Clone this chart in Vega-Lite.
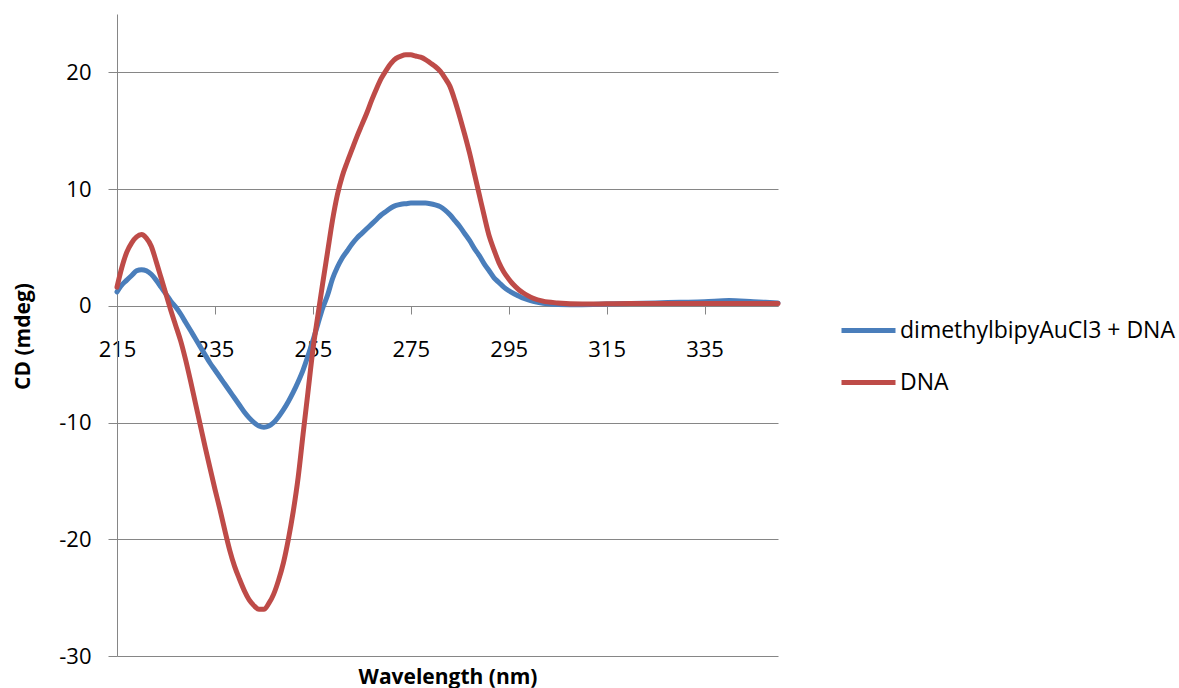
{
  "$schema": "https://vega.github.io/schema/vega-lite/v6.json",
  "autosize": {"type": "none"},
  "width": 661,
  "height": 642,
  "padding": {"left": 117, "top": 14, "right": 401, "bottom": 32},
  "background": "white",
  "config": {
    "view": {"stroke": null},
    "font": "Open Sans"
  },
  "data": {"values": [
    {"wl":215,"series":"dimethylbipyAuCl3 + DNA","cd":1.2},{"wl":216,"series":"dimethylbipyAuCl3 + DNA","cd":1.8},{"wl":217,"series":"dimethylbipyAuCl3 + DNA","cd":2.2},{"wl":218,"series":"dimethylbipyAuCl3 + DNA","cd":2.6},{"wl":219,"series":"dimethylbipyAuCl3 + DNA","cd":3.0},{"wl":220,"series":"dimethylbipyAuCl3 + DNA","cd":3.1},{"wl":221,"series":"dimethylbipyAuCl3 + DNA","cd":3.0},{"wl":222,"series":"dimethylbipyAuCl3 + DNA","cd":2.7},{"wl":223,"series":"dimethylbipyAuCl3 + DNA","cd":2.2},{"wl":224,"series":"dimethylbipyAuCl3 + DNA","cd":1.6},{"wl":225,"series":"dimethylbipyAuCl3 + DNA","cd":1.0},{"wl":226,"series":"dimethylbipyAuCl3 + DNA","cd":0.4},{"wl":227,"series":"dimethylbipyAuCl3 + DNA","cd":-0.1},{"wl":228,"series":"dimethylbipyAuCl3 + DNA","cd":-0.7},{"wl":229,"series":"dimethylbipyAuCl3 + DNA","cd":-1.4},{"wl":230,"series":"dimethylbipyAuCl3 + DNA","cd":-2.1},{"wl":231,"series":"dimethylbipyAuCl3 + DNA","cd":-2.8},{"wl":232,"series":"dimethylbipyAuCl3 + DNA","cd":-3.5},{"wl":233,"series":"dimethylbipyAuCl3 + DNA","cd":-4.2},{"wl":234,"series":"dimethylbipyAuCl3 + DNA","cd":-4.9},{"wl":235,"series":"dimethylbipyAuCl3 + DNA","cd":-5.5},{"wl":236,"series":"dimethylbipyAuCl3 + DNA","cd":-6.1},{"wl":237,"series":"dimethylbipyAuCl3 + DNA","cd":-6.7},{"wl":238,"series":"dimethylbipyAuCl3 + DNA","cd":-7.3},{"wl":239,"series":"dimethylbipyAuCl3 + DNA","cd":-7.9},{"wl":240,"series":"dimethylbipyAuCl3 + DNA","cd":-8.5},{"wl":241,"series":"dimethylbipyAuCl3 + DNA","cd":-9.1},{"wl":242,"series":"dimethylbipyAuCl3 + DNA","cd":-9.6},{"wl":243,"series":"dimethylbipyAuCl3 + DNA","cd":-10.0},{"wl":244,"series":"dimethylbipyAuCl3 + DNA","cd":-10.3},{"wl":245,"series":"dimethylbipyAuCl3 + DNA","cd":-10.4},{"wl":246,"series":"dimethylbipyAuCl3 + DNA","cd":-10.3},{"wl":247,"series":"dimethylbipyAuCl3 + DNA","cd":-10.0},{"wl":248,"series":"dimethylbipyAuCl3 + DNA","cd":-9.5},{"wl":249,"series":"dimethylbipyAuCl3 + DNA","cd":-8.9},{"wl":250,"series":"dimethylbipyAuCl3 + DNA","cd":-8.2},{"wl":251,"series":"dimethylbipyAuCl3 + DNA","cd":-7.4},{"wl":252,"series":"dimethylbipyAuCl3 + DNA","cd":-6.5},{"wl":253,"series":"dimethylbipyAuCl3 + DNA","cd":-5.5},{"wl":254,"series":"dimethylbipyAuCl3 + DNA","cd":-4.3},{"wl":255,"series":"dimethylbipyAuCl3 + DNA","cd":-3.0},{"wl":256,"series":"dimethylbipyAuCl3 + DNA","cd":-1.6},{"wl":257,"series":"dimethylbipyAuCl3 + DNA","cd":-0.2},{"wl":258,"series":"dimethylbipyAuCl3 + DNA","cd":0.9},{"wl":259,"series":"dimethylbipyAuCl3 + DNA","cd":2.3},{"wl":260,"series":"dimethylbipyAuCl3 + DNA","cd":3.3},{"wl":261,"series":"dimethylbipyAuCl3 + DNA","cd":4.1},{"wl":262,"series":"dimethylbipyAuCl3 + DNA","cd":4.7},{"wl":263,"series":"dimethylbipyAuCl3 + DNA","cd":5.3},{"wl":264,"series":"dimethylbipyAuCl3 + DNA","cd":5.8},{"wl":265,"series":"dimethylbipyAuCl3 + DNA","cd":6.2},{"wl":266,"series":"dimethylbipyAuCl3 + DNA","cd":6.6},{"wl":267,"series":"dimethylbipyAuCl3 + DNA","cd":7.0},{"wl":268,"series":"dimethylbipyAuCl3 + DNA","cd":7.4},{"wl":269,"series":"dimethylbipyAuCl3 + DNA","cd":7.8},{"wl":270,"series":"dimethylbipyAuCl3 + DNA","cd":8.1},{"wl":271,"series":"dimethylbipyAuCl3 + DNA","cd":8.4},{"wl":272,"series":"dimethylbipyAuCl3 + DNA","cd":8.6},{"wl":273,"series":"dimethylbipyAuCl3 + DNA","cd":8.7},{"wl":274,"series":"dimethylbipyAuCl3 + DNA","cd":8.75},{"wl":275,"series":"dimethylbipyAuCl3 + DNA","cd":8.8},{"wl":276,"series":"dimethylbipyAuCl3 + DNA","cd":8.8},{"wl":277,"series":"dimethylbipyAuCl3 + DNA","cd":8.8},{"wl":278,"series":"dimethylbipyAuCl3 + DNA","cd":8.8},{"wl":279,"series":"dimethylbipyAuCl3 + DNA","cd":8.75},{"wl":280,"series":"dimethylbipyAuCl3 + DNA","cd":8.65},{"wl":281,"series":"dimethylbipyAuCl3 + DNA","cd":8.5},{"wl":282,"series":"dimethylbipyAuCl3 + DNA","cd":8.2},{"wl":283,"series":"dimethylbipyAuCl3 + DNA","cd":7.8},{"wl":284,"series":"dimethylbipyAuCl3 + DNA","cd":7.3},{"wl":285,"series":"dimethylbipyAuCl3 + DNA","cd":6.8},{"wl":286,"series":"dimethylbipyAuCl3 + DNA","cd":6.2},{"wl":287,"series":"dimethylbipyAuCl3 + DNA","cd":5.6},{"wl":288,"series":"dimethylbipyAuCl3 + DNA","cd":4.9},{"wl":289,"series":"dimethylbipyAuCl3 + DNA","cd":4.3},{"wl":290,"series":"dimethylbipyAuCl3 + DNA","cd":3.6},{"wl":291,"series":"dimethylbipyAuCl3 + DNA","cd":3.0},{"wl":292,"series":"dimethylbipyAuCl3 + DNA","cd":2.4},{"wl":293,"series":"dimethylbipyAuCl3 + DNA","cd":2.0},{"wl":294,"series":"dimethylbipyAuCl3 + DNA","cd":1.6},{"wl":295,"series":"dimethylbipyAuCl3 + DNA","cd":1.3},{"wl":296,"series":"dimethylbipyAuCl3 + DNA","cd":1.05},{"wl":297,"series":"dimethylbipyAuCl3 + DNA","cd":0.85},{"wl":298,"series":"dimethylbipyAuCl3 + DNA","cd":0.65},{"wl":299,"series":"dimethylbipyAuCl3 + DNA","cd":0.5},{"wl":300,"series":"dimethylbipyAuCl3 + DNA","cd":0.38},{"wl":302,"series":"dimethylbipyAuCl3 + DNA","cd":0.22},{"wl":305,"series":"dimethylbipyAuCl3 + DNA","cd":0.12},{"wl":310,"series":"dimethylbipyAuCl3 + DNA","cd":0.1},{"wl":315,"series":"dimethylbipyAuCl3 + DNA","cd":0.15},{"wl":320,"series":"dimethylbipyAuCl3 + DNA","cd":0.2},{"wl":325,"series":"dimethylbipyAuCl3 + DNA","cd":0.25},{"wl":330,"series":"dimethylbipyAuCl3 + DNA","cd":0.3},{"wl":335,"series":"dimethylbipyAuCl3 + DNA","cd":0.35},{"wl":340,"series":"dimethylbipyAuCl3 + DNA","cd":0.45},{"wl":345,"series":"dimethylbipyAuCl3 + DNA","cd":0.35},{"wl":350,"series":"dimethylbipyAuCl3 + DNA","cd":0.25},
    {"wl":215,"series":"DNA","cd":1.6},{"wl":216,"series":"DNA","cd":3.3},{"wl":217,"series":"DNA","cd":4.6},{"wl":218,"series":"DNA","cd":5.4},{"wl":219,"series":"DNA","cd":5.9},{"wl":220,"series":"DNA","cd":6.1},{"wl":221,"series":"DNA","cd":5.8},{"wl":222,"series":"DNA","cd":5.1},{"wl":223,"series":"DNA","cd":3.8},{"wl":224,"series":"DNA","cd":2.4},{"wl":225,"series":"DNA","cd":1.0},{"wl":226,"series":"DNA","cd":-0.4},{"wl":227,"series":"DNA","cd":-1.7},{"wl":228,"series":"DNA","cd":-3.0},{"wl":229,"series":"DNA","cd":-4.6},{"wl":230,"series":"DNA","cd":-6.4},{"wl":231,"series":"DNA","cd":-8.3},{"wl":232,"series":"DNA","cd":-10.2},{"wl":233,"series":"DNA","cd":-12.1},{"wl":234,"series":"DNA","cd":-13.9},{"wl":235,"series":"DNA","cd":-15.7},{"wl":236,"series":"DNA","cd":-17.4},{"wl":237,"series":"DNA","cd":-19.2},{"wl":238,"series":"DNA","cd":-20.9},{"wl":239,"series":"DNA","cd":-22.3},{"wl":240,"series":"DNA","cd":-23.4},{"wl":241,"series":"DNA","cd":-24.4},{"wl":242,"series":"DNA","cd":-25.2},{"wl":243,"series":"DNA","cd":-25.7},{"wl":244,"series":"DNA","cd":-26.0},{"wl":245,"series":"DNA","cd":-26.0},{"wl":246,"series":"DNA","cd":-25.5},{"wl":247,"series":"DNA","cd":-24.7},{"wl":248,"series":"DNA","cd":-23.5},{"wl":249,"series":"DNA","cd":-22.0},{"wl":250,"series":"DNA","cd":-20.0},{"wl":251,"series":"DNA","cd":-17.6},{"wl":252,"series":"DNA","cd":-14.7},{"wl":253,"series":"DNA","cd":-11.0},{"wl":254,"series":"DNA","cd":-7.4},{"wl":255,"series":"DNA","cd":-3.8},{"wl":256,"series":"DNA","cd":-0.9},{"wl":257,"series":"DNA","cd":1.9},{"wl":258,"series":"DNA","cd":4.6},{"wl":259,"series":"DNA","cd":7.3},{"wl":260,"series":"DNA","cd":9.5},{"wl":261,"series":"DNA","cd":11.1},{"wl":262,"series":"DNA","cd":12.3},{"wl":263,"series":"DNA","cd":13.4},{"wl":264,"series":"DNA","cd":14.5},{"wl":265,"series":"DNA","cd":15.5},{"wl":266,"series":"DNA","cd":16.5},{"wl":267,"series":"DNA","cd":17.6},{"wl":268,"series":"DNA","cd":18.6},{"wl":269,"series":"DNA","cd":19.5},{"wl":270,"series":"DNA","cd":20.2},{"wl":271,"series":"DNA","cd":20.8},{"wl":272,"series":"DNA","cd":21.2},{"wl":273,"series":"DNA","cd":21.4},{"wl":274,"series":"DNA","cd":21.5},{"wl":275,"series":"DNA","cd":21.5},{"wl":276,"series":"DNA","cd":21.4},{"wl":277,"series":"DNA","cd":21.3},{"wl":278,"series":"DNA","cd":21.1},{"wl":279,"series":"DNA","cd":20.8},{"wl":280,"series":"DNA","cd":20.5},{"wl":281,"series":"DNA","cd":20.1},{"wl":282,"series":"DNA","cd":19.5},{"wl":283,"series":"DNA","cd":18.8},{"wl":284,"series":"DNA","cd":17.6},{"wl":285,"series":"DNA","cd":16.2},{"wl":286,"series":"DNA","cd":14.7},{"wl":287,"series":"DNA","cd":13.1},{"wl":288,"series":"DNA","cd":11.3},{"wl":289,"series":"DNA","cd":9.5},{"wl":290,"series":"DNA","cd":7.7},{"wl":291,"series":"DNA","cd":6.0},{"wl":292,"series":"DNA","cd":4.8},{"wl":293,"series":"DNA","cd":3.7},{"wl":294,"series":"DNA","cd":2.9},{"wl":295,"series":"DNA","cd":2.3},{"wl":296,"series":"DNA","cd":1.8},{"wl":297,"series":"DNA","cd":1.4},{"wl":298,"series":"DNA","cd":1.1},{"wl":299,"series":"DNA","cd":0.85},{"wl":300,"series":"DNA","cd":0.65},{"wl":302,"series":"DNA","cd":0.4},{"wl":305,"series":"DNA","cd":0.25},{"wl":310,"series":"DNA","cd":0.15},{"wl":320,"series":"DNA","cd":0.2},{"wl":330,"series":"DNA","cd":0.2},{"wl":340,"series":"DNA","cd":0.2},{"wl":350,"series":"DNA","cd":0.2}
  ]},
  "mark": {"type": "line", "interpolate": "monotone", "strokeWidth": 5, "strokeCap": "round", "strokeJoin": "round"},
  "encoding": {
    "x": {
      "field": "wl", "type": "quantitative",
      "scale": {"domain": [215, 350], "nice": false, "zero": false},
      "axis": {
        "values": [215, 235, 255, 275, 295, 315, 335],
        "offset": -350,
        "grid": false,
        "domainColor": "#868686", "domainWidth": 1,
        "tickColor": "#868686", "tickSize": 8, "tickWidth": 1,
        "labelFont": "Open Sans", "labelFontSize": 22, "labelColor": "#000000", "labelPadding": 25,
        "labelFlush": false, "labelOverlap": false,
        "title": "Wavelength (nm)",
        "titleFont": "Open Sans", "titleFontSize": 21, "titleFontWeight": "bold", "titleColor": "#000000",
        "titleX": 330.5, "titleY": 377, "titleBaseline": "alphabetic", "titleAlign": "center", "titleAnchor": null
      }
    },
    "y": {
      "field": "cd", "type": "quantitative",
      "scale": {"domain": [-30, 25], "nice": false, "zero": false},
      "axis": {
        "values": [-30, -20, -10, 0, 10, 20],
        "labelExpr": "datum.value < 0 ? '-' + abs(datum.value) : '' + datum.value",
        "grid": true, "gridColor": "#868686", "gridWidth": 1,
        "domainColor": "#868686", "domainWidth": 1,
        "tickColor": "#868686", "tickSize": 9, "tickWidth": 1,
        "labelFont": "Open Sans", "labelFontSize": 22, "labelColor": "#000000", "labelPadding": 17,
        "labelFlush": false, "labelOverlap": false,
        "title": "CD (mdeg)",
        "titleFont": "Open Sans", "titleFontSize": 21, "titleFontWeight": "bold", "titleColor": "#000000",
        "titleX": -94, "titleY": 322, "titleAngle": 270, "titleBaseline": "middle", "titleAlign": "center", "titleAnchor": null
      }
    },
    "color": {
      "field": "series", "type": "nominal",
      "scale": {"domain": ["dimethylbipyAuCl3 + DNA", "DNA"], "range": ["#4A7EBB", "#BE4B48"]},
      "legend": {
        "title": null,
        "orient": "none", "legendX": 722, "legendY": 287,
        "padding": 0,
        "symbolType": "stroke", "symbolSize": 2916, "symbolStrokeWidth": 5,
        "labelFont": "Open Sans", "labelFontSize": 23, "labelColor": "#000000", "labelOffset": 2,
        "rowPadding": 10, "labelLimit": 400
      }
    }
  }
}
